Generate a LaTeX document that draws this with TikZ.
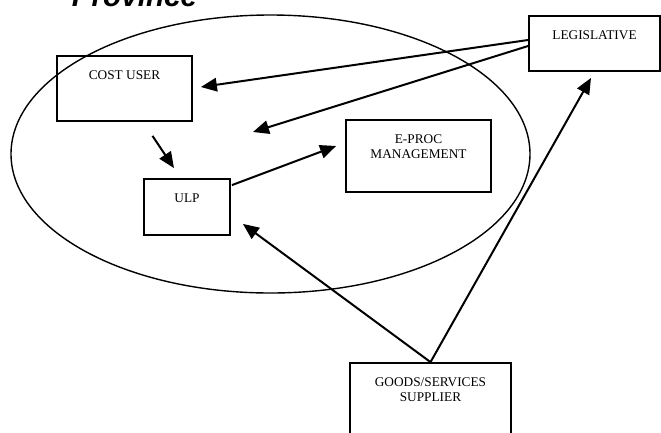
\documentclass[tikz,border=0pt]{standalone}
\usepackage{fontspec}
\setmainfont{Liberation Serif}
\newfontfamily\titlefont{Liberation Sans}
\usetikzlibrary{calc, arrows.meta}
\tikzstyle{box}=[rectangle, draw=black, line width=1.8pt]
\tikzstyle{boxlabel}=[anchor=north, inner sep=0pt, yshift=-15pt, align=center,
  font=\fontsize{13.3}{15.5}\selectfont]
\tikzstyle{arrow}=[-{Triangle[length=16pt,width=13.5pt]}, line width=2pt, draw=black]

\begin{document}
\begin{tikzpicture}[x=1pt, y=-1pt]
      \useasboundingbox (0,0) rectangle (661,432);
      \draw[line width=1.4pt] (270.5,154) ellipse [x radius=259.5pt, y radius=139pt];
      \node(title) at (134.5,6) [anchor=base, inner sep=0pt,
        font=\titlefont\bfseries\itshape\fontsize{29.6}{30}\selectfont] {Province};
      \node(cost) at (124.5,88.5) [box, minimum width=135pt, minimum height=65pt,
        label={[boxlabel]north:COST USER}] {};
      \node(legis) at (594.5,43.5) [box, minimum width=131pt, minimum height=55pt,
        label={[boxlabel]north:LEGISLATIVE}] {};
      \node(eproc) at (418.5,156) [box, minimum width=145pt, minimum height=72pt,
        label={[boxlabel]north:{E-PROC\\MANAGEMENT}}] {};
      \node(ulp) at (187,207) [box, minimum width=86pt, minimum height=56pt,
        label={[boxlabel]north:ULP}] {};
      \node(supplier) at (430.5,404) [box, minimum width=161pt, minimum height=82pt,
        label={[boxlabel]north:{GOODS/SERVICES\\SUPPLIER}}] {};
      \coordinate(aim) at (253,132);
      \draw[arrow] ($(legis.west)+(0,-3.5)$) -- ($(cost.east)+(8,-1.5)$);
      \draw[arrow] ($(legis.west)+(0,2.5)$) -- (aim);
      \draw[arrow] ($(cost.south)+(28,14)$) -- ($(ulp.north)+(-13,-10)$);
      \draw[arrow] ($(ulp.north east)+(1,7)$) -- ($(eproc.west)+(-9,-10)$);
      \draw[arrow] (supplier.north) -- ($(ulp.south east)+(12,-12)$);
      \draw[arrow] (supplier.north) -- ($(legis.south)+(-3.5,6)$);
\end{tikzpicture}
\end{document}
